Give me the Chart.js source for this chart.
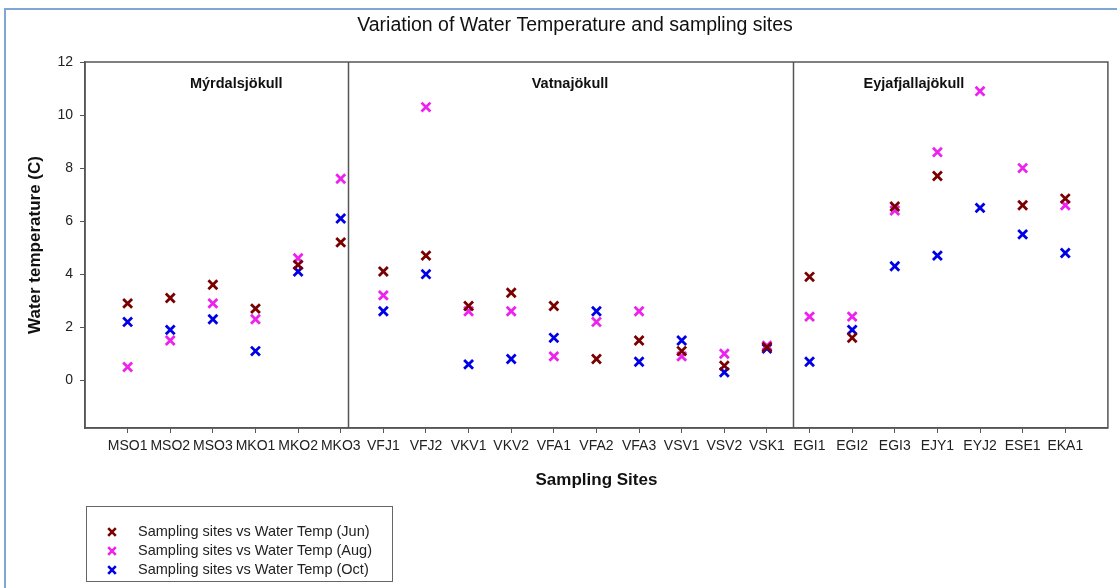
<!DOCTYPE html>
<html>
<head>
<meta charset="utf-8">
<script src="https://cdn.jsdelivr.net/npm/chart.js@4"></script>
<style>
  html, body { margin: 0; padding: 0; background: #fff; }
  #wrap { width: 1117px; height: 588px; }
</style>
</head>
<body>
<div id="wrap"><canvas id="chartTemp" width="1117" height="588"></canvas></div>
<script>
const sites = ['MSO1', 'MSO2', 'MSO3', 'MKO1', 'MKO2', 'MKO3',
    'VFJ1', 'VFJ2', 'VKV1', 'VKV2', 'VFA1', 'VFA2', 'VFA3', 'VSV1', 'VSV2', 'VSK1',
    'EGI1', 'EGI2', 'EGI3', 'EJY1', 'EYJ2', 'ESE1', 'EKA1'];

const tempJun = [2.9, 3.1, 3.6, 2.7, 4.35, 5.2,
    4.1, 4.7, 2.8, 3.3, 2.8, 0.8, 1.5, 1.1, 0.55, 1.25,
    3.9, 1.6, 6.55, 7.7, null, 6.6, 6.85];
const tempAug = [0.5, 1.5, 2.9, 2.3, 4.6, 7.6,
    3.2, 10.3, 2.6, 2.6, 0.9, 2.2, 2.6, 0.9, 1.0, 1.3,
    2.4, 2.4, 6.4, 8.6, 10.9, 8.0, 6.6];
const tempOct = [2.2, 1.9, 2.3, 1.1, 4.1, 6.1,
    2.6, 4.0, 0.6, 0.8, 1.6, 2.6, 0.7, 1.5, 0.3, 1.2,
    0.7, 1.9, 4.3, 4.7, 6.5, 5.5, 4.8];

const yTicks = [0, 2, 4, 6, 8, 10, 12];

const glaciers = ['Mýrdalsjökull', 'Vatnajökull', 'Eyjafjallajökull'];
const glacierLabelX = [2.55, 10.38, 18.45];
const dividers = [5.16, 15.62];

const seriesNames = ['Sampling sites vs Water Temp (Jun)', 'Sampling sites vs Water Temp (Aug)', 'Sampling sites vs Water Temp (Oct)'];
const colores = ['#7a0000', '#ee22ee', '#0000e6'];

const FONT = '"Liberation Sans", Arial, sans-serif';
Chart.defaults.font.family = FONT;

const toPoints = arr => arr.map((v, i) => ({ x: i, y: v }));

const extras = {
    id: 'extras',
    beforeDraw(chart) {
        const { ctx } = chart;
        ctx.save();
        // page frame
        ctx.strokeStyle = '#7ea6d8';
        ctx.lineWidth = 2;
        ctx.beginPath();
        ctx.moveTo(5, 588);
        ctx.lineTo(5, 9);
        ctx.lineTo(1117, 9);
        ctx.stroke();
        // title
        ctx.fillStyle = '#111';
        ctx.font = '19.5px ' + FONT;
        ctx.textAlign = 'center';
        ctx.textBaseline = 'middle';
        ctx.fillText('Variation of Water Temperature and sampling sites', 575, 26);
        ctx.restore();
    },
    beforeDatasetsDraw(chart) {
        const { ctx, chartArea: a, scales: { x } } = chart;
        ctx.save();
        ctx.strokeStyle = '#555';
        ctx.lineWidth = 1.5;
        ctx.strokeRect(a.left, a.top, a.right - a.left, a.bottom - a.top);
        dividers.forEach(d => {
            const px = Math.round(x.getPixelForValue(d)) + 0.5;
            ctx.beginPath();
            ctx.moveTo(px, a.top);
            ctx.lineTo(px, a.bottom);
            ctx.stroke();
        });
        ctx.fillStyle = '#111';
        ctx.font = 'bold 14.5px ' + FONT;
        ctx.textAlign = 'center';
        ctx.textBaseline = 'middle';
        glaciers.forEach((g, i) => ctx.fillText(g, x.getPixelForValue(glacierLabelX[i]), 84));
        ctx.restore();
    },
    afterDraw(chart) {
        const { ctx } = chart;
        ctx.save();
        ctx.strokeStyle = '#666';
        ctx.lineWidth = 1;
        ctx.strokeRect(86.5, 506.5, 306, 75);
        ctx.font = '14.5px ' + FONT;
        ctx.textBaseline = 'middle';
        ctx.textAlign = 'left';
        seriesNames.forEach((name, i) => {
            const y = 532 + i * 19;
            ctx.strokeStyle = colores[i];
            ctx.lineWidth = 2.6;
            const r = 3.8;
            ctx.beginPath();
            ctx.moveTo(112 - r, y - r);
            ctx.lineTo(112 + r, y + r);
            ctx.moveTo(112 + r, y - r);
            ctx.lineTo(112 - r, y + r);
            ctx.stroke();
            ctx.fillStyle = '#222';
            ctx.fillText(name, 138, y);
        });
        ctx.restore();
    }
};

new Chart(document.getElementById('chartTemp'), {
    type: 'scatter',
    data: {
        datasets: [tempJun, tempAug, tempOct].map((arr, i) => ({
            label: seriesNames[i],
            data: toPoints(arr),
            pointStyle: 'crossRot',
            pointRadius: 6.3,
            pointHoverRadius: 6.3,
            borderWidth: 2.8,
            borderColor: colores[i],
            backgroundColor: colores[i]
        }))
    },
    options: {
        responsive: false,
        animation: false,
        layout: { padding: { left: 0, top: 62, right: 9, bottom: 0 } },
        plugins: {
            legend: { display: false },
            tooltip: { enabled: false }
        },
        scales: {
            x: {
                type: 'linear',
                min: -1,
                max: 23,
                afterBuildTicks: s => { s.ticks = sites.map((_, i) => ({ value: i })); },
                afterFit: s => { s.height = 160; },
                ticks: {
                    autoSkip: false,
                    maxRotation: 0,
                    padding: 5,
                    color: '#222',
                    font: { size: 14 },
                    callback: v => sites[v] ?? ''
                },
                grid: { drawOnChartArea: false, drawTicks: true, tickLength: 5, color: '#555', lineWidth: 1 },
                border: { display: true, color: '#555', width: 1.5 },
                title: {
                    display: true,
                    text: 'Sampling Sites',
                    color: '#111',
                    font: { size: 17, weight: 'bold' },
                    padding: 97
                }
            },
            y: {
                min: -1.8,
                max: 12,
                afterBuildTicks: s => { s.ticks = yTicks.map(v => ({ value: v })); },
                afterFit: s => { s.width = 85; },
                ticks: {
                    padding: 7,
                    color: '#222',
                    font: { size: 14 }
                },
                grid: { drawOnChartArea: false, drawTicks: true, tickLength: 5, color: '#555', lineWidth: 1 },
                border: { display: true, color: '#555', width: 1.5 },
                title: {
                    display: true,
                    text: 'Water temperature (C)',
                    color: '#111',
                    font: { size: 17, weight: 'bold' },
                    padding: 25
                }
            }
        }
    },
    plugins: [extras]
});
</script>
</body>
</html>
